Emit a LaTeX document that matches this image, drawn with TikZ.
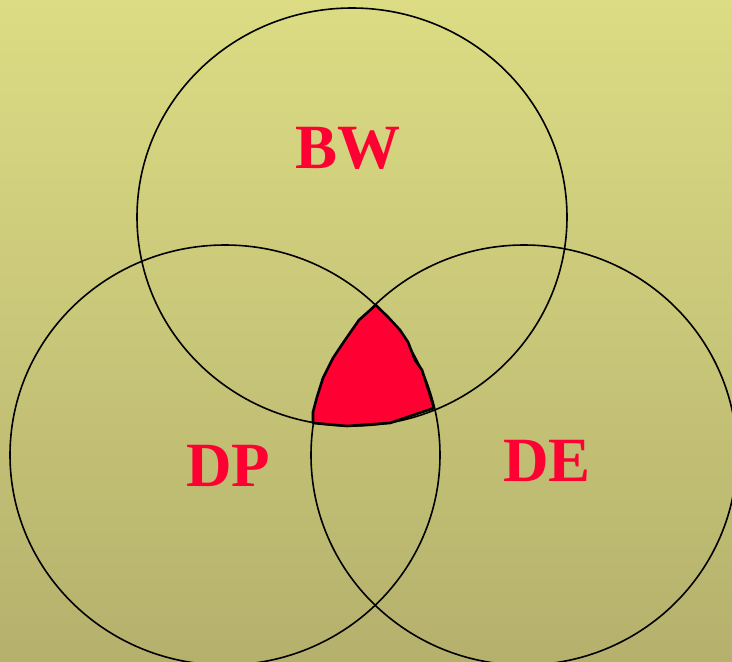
\documentclass[tikz,border=0pt]{standalone}
\usepackage{fontspec}
\setmainfont{Liberation Serif}
\definecolor{bgtop}{HTML}{DCDC84}
\definecolor{bgbot}{HTML}{B5B16D}
\definecolor{redfill}{HTML}{FF0033}
\tikzset{
  ring/.style={draw=black, line width=1.6pt},
  lab/.style={text=redfill, font=\fontsize{63}{63}\selectfont\bfseries, inner sep=0pt},
}
\begin{document}
\begin{tikzpicture}[x=1pt,y=-1pt]
\shade[top color=bgtop, bottom color=bgbot] (0,0) rectangle (732,662);
\useasboundingbox (0,0) rectangle (732,662);
\begin{scope}
\clip (0,0) rectangle (732,662);
\draw[ring] (352,217) ellipse [x radius=215, y radius=209];
\draw[ring] (225,455) ellipse [x radius=215, y radius=210];
\draw[ring] (524,455) ellipse [x radius=213, y radius=210];
\end{scope}
\draw[fill=redfill, draw=black, line width=2.6pt, line join=round]
 (375.7,305) -- (368,312) -- (359,320) -- (352,330) -- (343,343) -- (333,358)
 -- (323,378) -- (317,397) -- (313,412) -- (313,423) -- (347,426) -- (390,423)
 -- (434,408) -- (430,395) -- (422,370) -- (415,360) -- (408,342) -- (400,330)
 -- (388,317) -- cycle;
\node[lab] (bw) at (348,148) {BW};
\node[lab] (dp) at (228,466) {DP};
\node[lab] (de) at (547,461) {DE};
\end{tikzpicture}
\end{document}
